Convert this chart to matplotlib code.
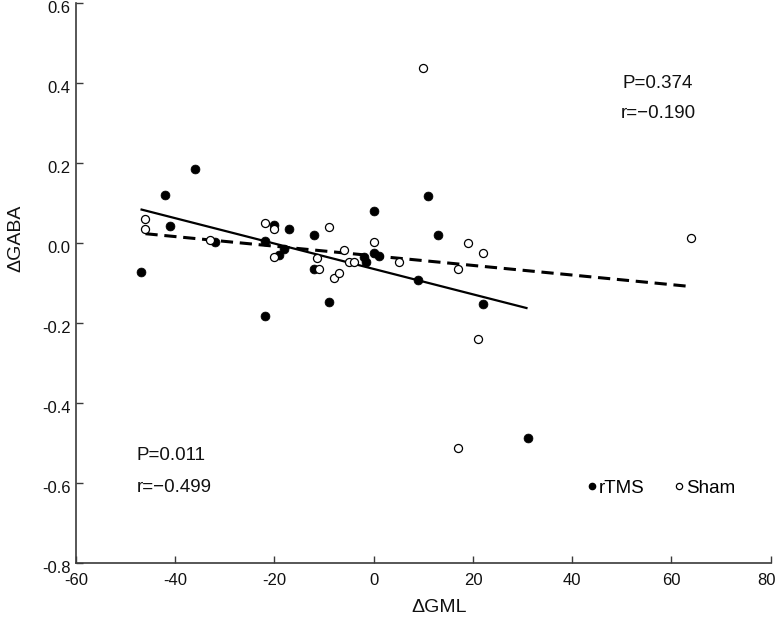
import matplotlib
matplotlib.use("Agg")
import matplotlib.pyplot as plt
import matplotlib.transforms as mtransforms
from matplotlib.lines import Line2D

plt.rcParams['font.family'] = ['Liberation Sans', 'DejaVu Sans']
plt.rcParams['axes.unicode_minus'] = False

# rTMS (filled)
rtms_x = [-47, -42, -41, -36, -32, -22, -22, -20, -19, -18, -17, -12, -12, -9,
          0, 0, 1, -2, -1.5, 9, 11, 13, 22, 31]
rtms_y = [-0.072, 0.12, 0.043, 0.186, 0.004, 0.006, -0.183, 0.045, -0.029, -0.015,
          0.035, 0.02, -0.065, -0.146, 0.08, -0.025, -0.032, -0.034, -0.048, -0.092,
          0.118, 0.021, -0.152, -0.487]

# Sham (open)
sham_x = [-46, -46, -33, -22, -20, -20, -11.5, -11, -9, -8, -7, -6, -5, -4,
          0, 5, 10, 17, 17, 19, 21, 22, 64]
sham_y = [0.06, 0.035, 0.007, 0.05, 0.035, -0.035, -0.037, -0.065, 0.04, -0.087,
          -0.075, -0.018, -0.046, -0.048, 0.004, -0.046, 0.437, -0.065, -0.513,
          0.0, -0.24, -0.025, 0.013]

# regression lines (end points)
rtms_fit_x = [-47, 31]
rtms_fit_y = [0.085, -0.1625]
sham_fit_x = [-46, 63]
sham_fit_y = [0.024, -0.107]

xticks = [-60, -40, -20, 0, 20, 40, 60, 80]
yticks = [-0.8, -0.6, -0.4, -0.2, 0.0, 0.2, 0.4, 0.6]
ytick_labels = ['-0.8', '-0.6', '-0.4', '-0.2', '0.0', '0.2', '0.4', '0.6']

W, H = 778, 618
fig = plt.figure(figsize=(W / 100, H / 100), dpi=100)
ax = fig.add_axes([76 / W, (H - 563.3) / H, 694.7 / W, 560 / H])

ax.plot(rtms_fit_x, rtms_fit_y, color='black', lw=1.6, solid_capstyle='butt', zorder=2)
ax.plot(sham_fit_x, sham_fit_y, color='black', lw=2.2, linestyle=(0, (4, 2.2)),
        dash_capstyle='butt', zorder=2)

ax.plot(rtms_x, rtms_y, linestyle='none', marker='o', markersize=6.4,
        markerfacecolor='black', markeredgecolor='black', markeredgewidth=0.5, zorder=3)
ax.plot(sham_x, sham_y, linestyle='none', marker='o', markersize=5.8,
        markerfacecolor='white', markeredgecolor='black', markeredgewidth=0.9, zorder=3)

ax.set_xlim(-60, 80)
ax.set_ylim(-0.8, 0.6)
ax.set_xticks(xticks)
ax.set_xticklabels([str(t) for t in xticks])
ax.set_yticks(yticks)
ax.set_yticklabels(ytick_labels)

for s in ['top', 'right']:
    ax.spines[s].set_visible(False)
for s in ['left', 'bottom']:
    ax.spines[s].set_color('#3a3a3a')
    ax.spines[s].set_linewidth(1.2)

ax.tick_params(axis='both', direction='in', length=5, width=1.0, color='#3a3a3a',
               labelsize=12, labelcolor='#111111')
ax.tick_params(axis='x', pad=7)
ax.tick_params(axis='y', pad=4)

# y tick labels sit slightly below their ticks in the reference
down = mtransforms.ScaledTranslation(0, -4 / 100, fig.dpi_scale_trans)
for lab in ax.get_yticklabels():
    lab.set_transform(lab.get_transform() + down)
# last x tick label nudged left so it stays inside the canvas
left = mtransforms.ScaledTranslation(-4 / 100, 0, fig.dpi_scale_trans)
lastx = ax.get_xticklabels()[-1]
lastx.set_transform(lastx.get_transform() + left)

ax.set_xlabel('\u0394GML', fontsize=14, color='#111111')
ax.xaxis.set_label_coords((439 - 76) / 694.7, -(607 - 563.3) / 560)
ax.xaxis.label.set_va('center')
ax.set_ylabel('\u0394GABA', fontsize=14, color='#111111')
ax.yaxis.set_label_coords(-(76 - 16) / 694.7, (563.3 - 238) / 560)
ax.yaxis.label.set_va('center')

def ftext(px, py, s, **kw):
    fig.text(px / W, 1 - py / H, s, fontsize=13.5, color='#111111', va='center', **kw)

ftext(658, 83, 'P=0.374', ha='center')
ftext(658, 114, 'r=\u22120.190', ha='center')
ftext(137, 455, 'P=0.011', ha='left')
ftext(137, 487, 'r=\u22120.499', ha='left')

handles = [
    Line2D([], [], linestyle='none', marker='o', markersize=4.5, markerfacecolor='black',
           markeredgecolor='black'),
    Line2D([], [], linestyle='none', marker='o', markersize=4.5, markerfacecolor='white',
           markeredgecolor='black', markeredgewidth=0.9),
]
leg = ax.legend(handles, ['rTMS', 'Sham'], ncol=2, frameon=False, fontsize=13.5,
                handlelength=0.4, handletextpad=0.2, columnspacing=1.6, borderpad=0,
                borderaxespad=0, loc='center left',
                bbox_to_anchor=((588 - 76) / 694.7, (563.3 - 488) / 560))

fig.savefig('out.png', dpi=100)
